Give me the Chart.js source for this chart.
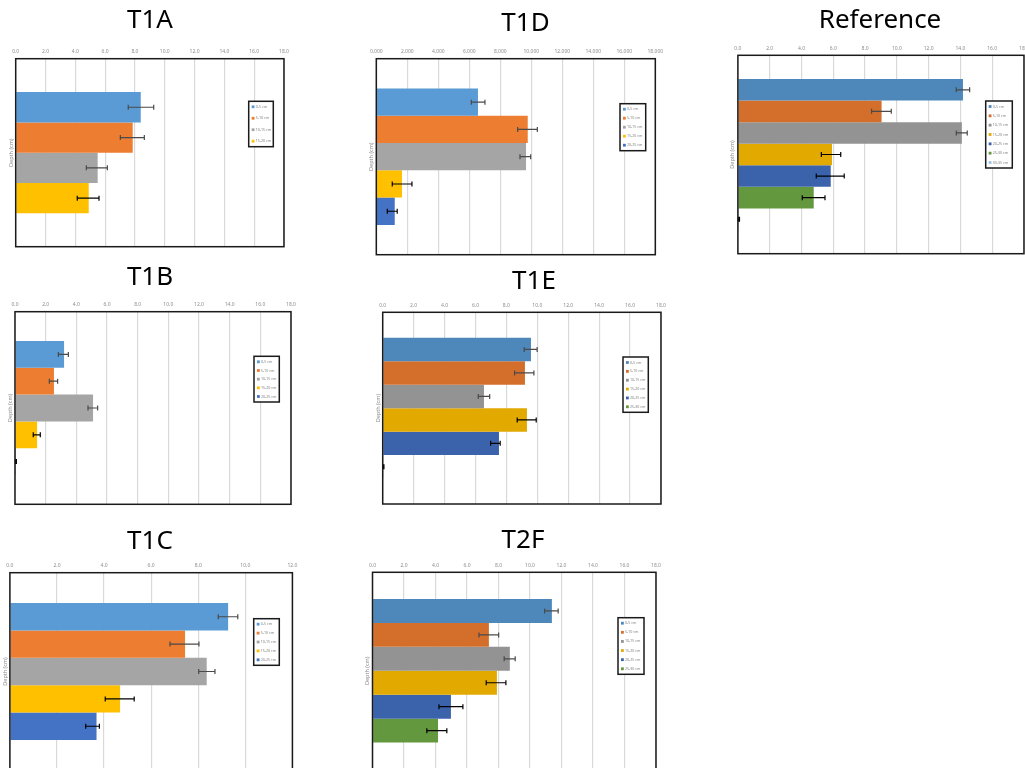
<!DOCTYPE html>
<html>
<head>
<meta charset="utf-8">
<script src="https://cdn.jsdelivr.net/npm/chart.js@4.4.1/dist/chart.umd.min.js"></script>
<style>
  html, body { margin: 0; padding: 0; background: #fff; }
  body { width: 1025px; height: 768px; overflow: hidden; position: relative; }
  canvas { position: absolute; left: 0; top: 0; }
</style>
</head>
<body>
<script>
// Depth classes shared by every panel (series names)
const depthLabels = ['0-5 cm', '5-10 cm', '10-15 cm', '15-20 cm', '20-25 cm', '25-30 cm', '30-35 cm'];

// Two colour sets used by the panels
const paletteLight = ['#5B9BD5', '#ED7D31', '#A5A5A5', '#FFC000', '#4472C4'];
const paletteDark = ['#4E88BB', '#D36E2B', '#939393', '#E2A900', '#3B63AC', '#63983E', '#9DC3E6'];

// Mean concentration per depth class, with lower / upper error amounts
const t1aValues = [8.39, 7.85, 5.50, 4.90];
const t1aMinus  = [0.84, 0.83, 0.76, 0.77];
const t1aPlus   = [0.87, 0.78, 0.65, 0.69];

const t1dValues = [6.56, 9.77, 9.66, 1.66, 1.19];
const t1dMinus  = [0.43, 0.65, 0.39, 0.63, 0.48];
const t1dPlus   = [0.45, 0.62, 0.30, 0.64, 0.16];

const refValues = [14.16, 9.04, 14.09, 5.92, 5.84, 4.77, 0.06];
const refMinus  = [0.42, 0.63, 0.35, 0.67, 0.91, 0.72, 0.04];
const refPlus   = [0.42, 0.61, 0.34, 0.55, 0.85, 0.71, 0.04];

const t1bValues = [3.20, 2.54, 5.09, 1.44, 0.06];
const t1bMinus  = [0.37, 0.30, 0.33, 0.25, 0.03];
const t1bPlus   = [0.28, 0.24, 0.30, 0.21, 0.03];

const t1eValues = [9.59, 9.20, 6.55, 9.33, 7.52, 0.05];
const t1eMinus  = [0.44, 0.67, 0.37, 0.63, 0.54, 0.03];
const t1ePlus   = [0.40, 0.58, 0.37, 0.60, 0.08, 0.03];

const t1cValues = [9.27, 7.44, 8.36, 4.68, 3.68];
const t1cMinus  = [0.42, 0.64, 0.34, 0.63, 0.46];
const t1cPlus   = [0.41, 0.59, 0.35, 0.60, 0.12];

const t2fValues = [11.39, 7.39, 8.72, 7.90, 4.98, 4.16];
const t2fMinus  = [0.46, 0.63, 0.36, 0.68, 0.76, 0.71];
const t2fPlus   = [0.40, 0.62, 0.34, 0.57, 0.76, 0.56];

const CW = 1040, CH = 800;

// Frame, error bars, axis title, panel title and boxed legend
const panelDecor = {
  id: 'panelDecor',
  afterDatasetsDraw(chart) {
    const ctx = chart.ctx;
    const xs = chart.scales.x;
    chart.data.datasets.forEach((ds, i) => {
      const bar = chart.getDatasetMeta(i).data[0];
      if (!bar) return;
      const v = ds.data[0];
      const x0 = xs.getPixelForValue(v - ds.errMinus);
      const x1 = xs.getPixelForValue(v + ds.errPlus);
      const y = bar.y;
      ctx.save();
      ctx.strokeStyle = i < 3 ? '#4a4a4a' : '#000';
      ctx.lineWidth = 1.2;
      ctx.beginPath();
      ctx.moveTo(x0, y); ctx.lineTo(x1, y);
      ctx.moveTo(x0, y - 2.5); ctx.lineTo(x0, y + 2.5);
      ctx.moveTo(x1, y - 2.5); ctx.lineTo(x1, y + 2.5);
      ctx.stroke();
      ctx.restore();
    });
  },
  afterDraw(chart, args, opts) {
    const ctx = chart.ctx;
    const a = chart.chartArea;

    ctx.save();
    ctx.strokeStyle = '#1a1a1a';
    ctx.lineWidth = 1.5;
    ctx.strokeRect(a.left, a.top, a.right - a.left, a.bottom - a.top);
    ctx.restore();

    ctx.save();
    ctx.fillStyle = '#8c8c8c';
    ctx.font = '5.5px "Noto Sans"';
    ctx.translate(opts.axisTitleX, (a.top + a.bottom) / 2);
    ctx.rotate(-Math.PI / 2);
    ctx.textAlign = 'center';
    ctx.textBaseline = 'middle';
    ctx.fillText('Depth (cm)', 0, 0);
    ctx.restore();

    ctx.save();
    ctx.fillStyle = '#000';
    ctx.font = '26px "Noto Sans"';
    ctx.textAlign = 'center';
    ctx.textBaseline = 'middle';
    ctx.fillText(opts.title, opts.titleX, opts.titleY);
    ctx.restore();

    const L = opts.legendBox;
    const n = chart.data.datasets.length;
    ctx.save();
    ctx.fillStyle = '#fff';
    ctx.fillRect(L.x, L.y, L.w, L.h);
    ctx.strokeStyle = '#1a1a1a';
    ctx.lineWidth = 1.5;
    ctx.strokeRect(L.x, L.y, L.w, L.h);
    const pad = 5.5;
    const step = (L.h - 2 * pad) / (n - 1);
    ctx.font = '3.6px "Noto Sans"';
    ctx.textBaseline = 'middle';
    chart.data.datasets.forEach((ds, i) => {
      const yy = L.y + pad + i * step;
      ctx.fillStyle = ds.backgroundColor;
      ctx.fillRect(L.x + 3, yy - 1.4, 2.8, 2.8);
      ctx.fillStyle = '#7f7f7f';
      ctx.fillText(ds.label, L.x + 7, yy);
    });
    ctx.restore();
  }
};

function makePanel(p) {
  const canvas = document.createElement('canvas');
  canvas.width = CW;
  canvas.height = CH;
  document.body.appendChild(canvas);

  const datasets = p.values.map((v, i) => ({
    label: depthLabels[i],
    data: [v],
    errMinus: p.minus[i],
    errPlus: p.plus[i],
    backgroundColor: p.colors[i],
    borderWidth: 0,
    barPercentage: 1,
    categoryPercentage: p.group
  }));

  new Chart(canvas, {
    type: 'bar',
    data: { labels: [''], datasets },
    options: {
      indexAxis: 'y',
      responsive: false,
      animation: false,
      events: [],
      layout: {
        padding: {
          left: p.area[0],
          top: p.area[1] - 12,
          right: CW - p.area[2],
          bottom: CH - p.area[3]
        }
      },
      plugins: {
        legend: { display: false },
        tooltip: { enabled: false },
        panelDecor: {
          title: p.title, titleX: p.titleAt[0], titleY: p.titleAt[1],
          axisTitleX: p.axisTitleX,
          legendBox: { x: p.legend[0], y: p.legend[1], w: p.legend[2] - p.legend[0], h: p.legend[3] - p.legend[1] }
        }
      },
      scales: {
        x: {
          position: 'top',
          min: 0,
          max: p.max,
          ticks: {
            stepSize: 2,
            padding: 4,
            color: '#8c8c8c',
            font: { size: 5, family: 'Noto Sans' },
            callback: v => Number(v).toFixed(p.decimals)
          },
          grid: { color: '#d9d9d9', lineWidth: 1.2, drawTicks: false },
          border: { display: false },
          afterFit: s => { s.height = 12; }
        },
        y: { display: false }
      }
    },
    plugins: [panelDecor]
  });
}

makePanel({ title: 'T1A', titleAt: [150, 21], area: [15.7, 58.7, 284, 246.7], axisTitleX: 11,
  legend: [248.7, 101.3, 273.3, 146.7], max: 18, decimals: 1, group: 0.645,
  values: t1aValues, minus: t1aMinus, plus: t1aPlus, colors: paletteLight });

makePanel({ title: 'T1D', titleAt: [525.5, 24], area: [376.3, 58.7, 655.3, 254.7], axisTitleX: 371,
  legend: [620, 103.7, 645.7, 150.7], max: 18, decimals: 3, group: 0.696,
  values: t1dValues, minus: t1dMinus, plus: t1dPlus, colors: paletteLight });

makePanel({ title: 'Reference', titleAt: [880, 21], area: [737.9, 55.3, 1024, 253.7], axisTitleX: 732.7,
  legend: [985.7, 101, 1012.3, 168], max: 18, decimals: 1, group: 0.761,
  values: refValues, minus: refMinus, plus: refPlus, colors: paletteDark });

makePanel({ title: 'T1B', titleAt: [150, 278], area: [15, 311.7, 291, 504.3], axisTitleX: 10,
  legend: [254, 356.3, 279.3, 402], max: 18, decimals: 1, group: 0.696,
  values: t1bValues, minus: t1bMinus, plus: t1bPlus, colors: paletteLight });

makePanel({ title: 'T1E', titleAt: [534, 282], area: [382.7, 312.3, 661, 504], axisTitleX: 378.3,
  legend: [623, 357, 648.3, 412.3], max: 18, decimals: 1, group: 0.735,
  values: t1eValues, minus: t1eMinus, plus: t1ePlus, colors: paletteDark });

makePanel({ title: 'T1C', titleAt: [150, 542], area: [9.9, 572.7, 292.4, 770.3], axisTitleX: 5,
  legend: [253.7, 618.7, 279.3, 665.3], max: 12, decimals: 1, group: 0.693,
  values: t1cValues, minus: t1cMinus, plus: t1cPlus, colors: paletteLight });

makePanel({ title: 'T2F', titleAt: [523, 541], area: [372.5, 572.3, 656, 769.3], axisTitleX: 367.3,
  legend: [618, 617.7, 644, 674.3], max: 18, decimals: 1, group: 0.729,
  values: t2fValues, minus: t2fMinus, plus: t2fPlus, colors: paletteDark });
</script>
</body>
</html>
